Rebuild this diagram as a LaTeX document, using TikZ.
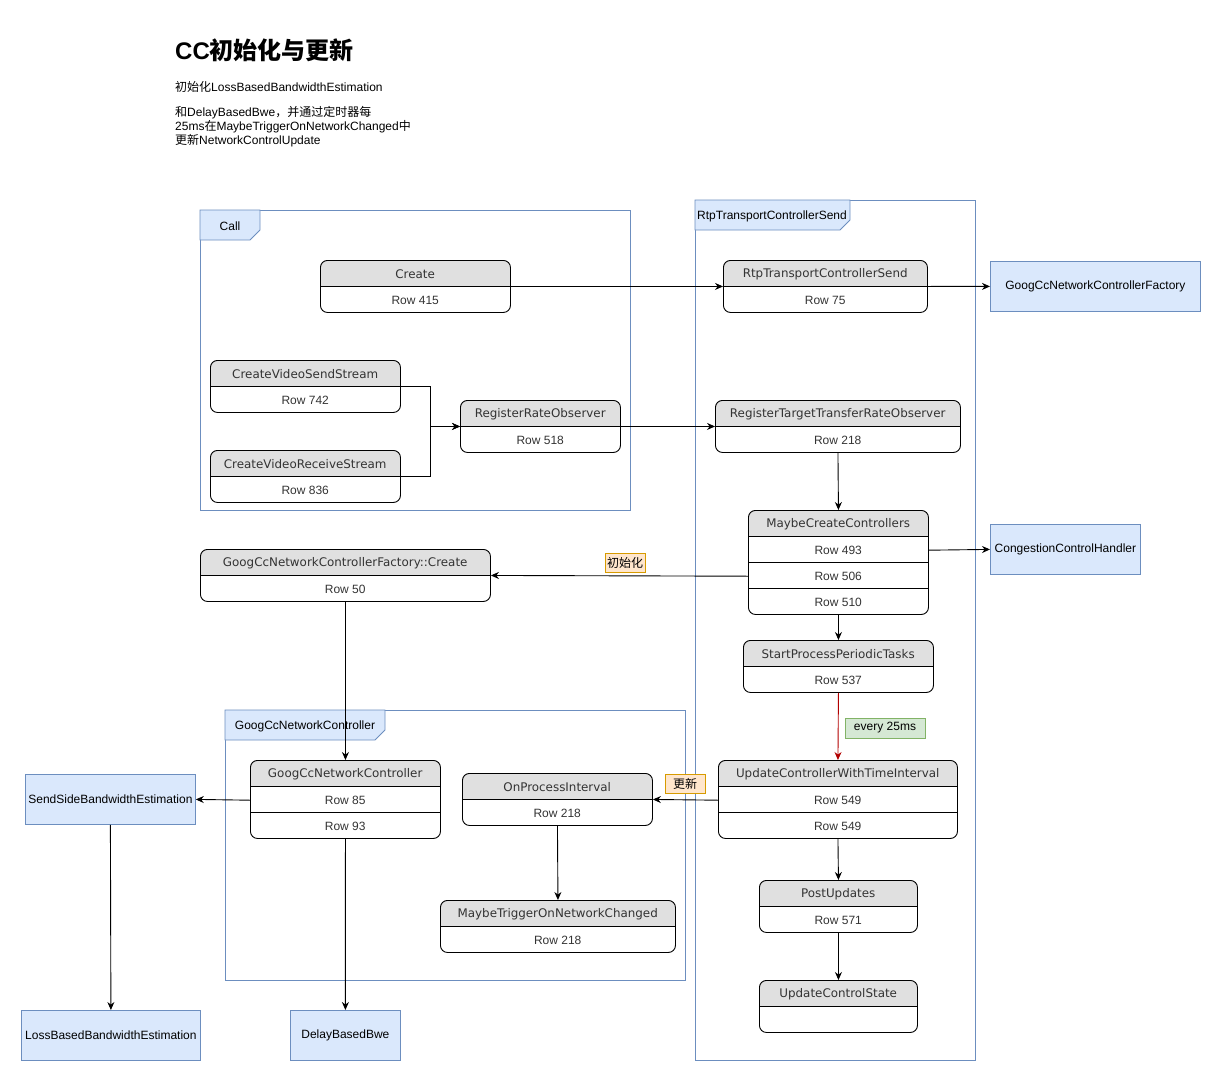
\documentclass[tikz,border=0pt]{standalone}
\usepackage{fontspec}
\setmainfont{Liberation Sans}
\newfontfamily\hdrfont{DejaVu Sans}
\newfontfamily\cjk{Noto Sans CJK SC}
\usetikzlibrary{arrows.meta}
\definecolor{bfill}{HTML}{DAE8FC}
\definecolor{bline}{HTML}{6C8EBF}
\definecolor{hgray}{HTML}{E0E0E0}
\definecolor{ofill}{HTML}{FFE6CC}
\definecolor{oline}{HTML}{D79B00}
\definecolor{gfill}{HTML}{D5E8D4}
\definecolor{gline}{HTML}{82B366}
\definecolor{txt}{HTML}{333333}
\definecolor{redl}{HTML}{B20000}
\tikzset{
  swbox/.style={draw=black, rounded corners=7pt, line width=0.9pt, inner sep=0pt},
  swline/.style={draw=black, line width=0.9pt},
  hdrtext/.style={font=\hdrfont\fontsize{11.9}{13}\selectfont, text=txt, minimum height=26pt, inner sep=0pt, yshift=-1pt},
  rowtext/.style={font=\fontsize{12}{14}\selectfont, text=txt, minimum height=26pt, inner sep=0pt, yshift=-1pt},
  bluebox/.style={draw=bline, fill=bfill, line width=0.8pt, inner sep=0pt, font=\fontsize{12}{14}\selectfont, anchor=north west},
  framebox/.style={draw=bline, line width=0.8pt, inner sep=0pt, anchor=north west},
  tagshape/.style={draw=bline, fill=bfill, line width=0.8pt},
  tagtext/.style={font=\fontsize{12}{14}\selectfont, inner sep=0pt},
  conn/.style={draw=black, line width=0.9pt, -{Stealth[length=8pt,width=7pt]}},
  redconn/.style={draw=redl, line width=0.9pt, -{Stealth[length=8pt,width=7pt]}},
  olabel/.style={draw=oline, fill=ofill, line width=0.8pt, inner sep=0pt, minimum width=40pt, minimum height=19pt, font=\cjk\fontsize{12}{14}\selectfont},
  glabel/.style={draw=gline, fill=gfill, line width=0.8pt, inner sep=0pt, minimum width=80pt, minimum height=20pt, font=\fontsize{12}{14}\selectfont},
}
\newcommand{\swl}[7]{%
  \pgfmathsetmacro{\swW}{#4-#2}%
  \pgfmathsetmacro{\swH}{26*(#5+1)}%
  \pgfmathsetmacro{\swY}{#3+26}%
  \fill[hgray] (#2,\swY) [rounded corners=7pt] -- (#2,#3) -- (#4,#3) -- (#4,\swY);
  \node[swbox, minimum width=\swW pt, minimum height=\swH pt, anchor=north west] (#1) at (#2,#3) {};
  \node[hdrtext, minimum width=\swW pt, anchor=north west] (#1-h) at (#2,#3) {#6};
  \foreach \r [count=\i] in {#7} {
    \pgfmathsetmacro{\rowY}{#3+26*\i}
    \draw[swline] (#2,\rowY) -- (#4,\rowY);
    \node[rowtext, minimum width=\swW pt, anchor=north west] (#1-\i) at (#2,\rowY) {\r};
  }
}
\begin{document}
\begin{tikzpicture}[x=1pt, y=-1pt]
\useasboundingbox (0,0) rectangle (1221,1081);

% title and description
\node[anchor=west, inner sep=0pt, font=\bfseries\fontsize{24}{28}\selectfont] (title) at (175,50) {CC{\cjk 初始化与更新}};
\node[anchor=north west, align=left, inner sep=0pt, font=\fontsize{12}{14}\selectfont] (desc) at (175,81)
  {{\cjk 初始化}LossBasedBandwidthEstimation\\[11pt]
   {\cjk 和}DelayBasedBwe{\cjk ，并通过定时器每}\\
   25ms{\cjk 在}MaybeTriggerOnNetworkChanged{\cjk 中}\\
   {\cjk 更新}NetworkControlUpdate};

% frames
\node[framebox, minimum width=430pt, minimum height=300pt] (fcall) at (200,210) {};
\draw[tagshape] (200,210) -- (260,210) -- (260,230) -- (250,240) -- (200,240) -- cycle;
\node[tagtext] (tcall) at (230,226) {Call};

\node[framebox, minimum width=280pt, minimum height=860pt] (frtp) at (695,200) {};
\draw[tagshape] (695,200) -- (850,200) -- (850,220) -- (840,230) -- (695,230) -- cycle;
\node[tagtext] (trtp) at (772,216) {RtpTransportControllerSend};

\node[framebox, minimum width=460pt, minimum height=270pt] (fgcc) at (225,710) {};
\draw[tagshape] (225,710) -- (385,710) -- (385,730) -- (375,740) -- (225,740) -- cycle;
\node[tagtext] (tgcc) at (305,726) {GoogCcNetworkController};

% swimlane nodes
\swl{create}{320}{260}{510}{1}{Create}{Row 415}
\swl{rtp}{723}{260}{927}{1}{RtpTransportControllerSend}{Row 75}
\swl{cvs}{210}{360}{400}{1}{CreateVideoSendStream}{Row 742}
\swl{cvr}{210}{450}{400}{1}{CreateVideoReceiveStream}{Row 836}
\swl{rro}{460}{400}{620}{1}{RegisterRateObserver}{Row 518}
\swl{rttro}{715}{400}{960}{1}{RegisterTargetTransferRateObserver}{Row 218}
\swl{mcc}{748}{510}{928}{3}{MaybeCreateControllers}{Row 493,Row 506,Row 510}
\swl{sppt}{743}{640}{933}{1}{StartProcessPeriodicTasks}{Row 537}
\swl{ucwti}{718}{760}{957}{2}{UpdateControllerWithTimeInterval}{Row 549,Row 549}
\swl{pu}{759}{880}{917}{1}{PostUpdates}{Row 571}
\swl{ucs}{759}{980}{917}{1}{UpdateControlState}{\relax}
\swl{fcreate}{200}{549}{490}{1}{GoogCcNetworkControllerFactory::Create}{Row 50}
\swl{gcnc}{250}{760}{440}{2}{GoogCcNetworkController}{Row 85,Row 93}
\swl{opi}{462}{773}{652}{1}{OnProcessInterval}{Row 218}
\swl{mtonc}{440}{900}{675}{1}{MaybeTriggerOnNetworkChanged}{Row 218}

% blue boxes
\node[bluebox, minimum width=210pt, minimum height=50pt] (gcf) at (990,261) {GoogCcNetworkControllerFactory};
\node[bluebox, minimum width=150pt, minimum height=50pt] (cch) at (990,524) {CongestionControlHandler};
\node[bluebox, minimum width=170pt, minimum height=50pt] (ssbe) at (25,774) {SendSideBandwidthEstimation};
\node[bluebox, minimum width=179pt, minimum height=50pt] (lbbe) at (21,1010) {LossBasedBandwidthEstimation};
\node[bluebox, minimum width=110pt, minimum height=50pt] (dbb) at (290,1010) {DelayBasedBwe};

% connectors
\draw[conn] (create.east) -- (rtp.west);
\draw[conn] (rtp.east) -- (gcf.west);
\draw[conn] (cvs.east) -- ++(30,0) |- (rro.west);
\draw[conn] (cvr.east) -- ++(30,0) |- (rro.west);
\draw[conn] (rro.east) -- (rttro.west);
\draw[conn] (rttro.south) -- (mcc.north);
\draw[conn] (mcc-1.east) -- (cch.west);
\draw[conn] (mcc-2.west) -- (fcreate.east);
\draw[conn] (mcc.south) -- (sppt.north);
\draw[redconn] (sppt.south) -- (ucwti.north);
\draw[conn] (ucwti-1.west) -- (opi.east);
\draw[conn] (ucwti.south) -- (pu.north);
\draw[conn] (pu.south) -- (ucs.north);
\draw[conn] (fcreate.south) -- (gcnc.north);
\draw[conn] (gcnc-1.west) -- (ssbe.east);
\draw[conn] (gcnc.south) -- (dbb.north);
\draw[conn] (ssbe.south) -- (lbbe.north);
\draw[conn] (opi.south) -- (mtonc.north);

% labels
\node[olabel] (lblinit) at (625,563) {初始化};
\node[olabel] (lblupd) at (685,784) {更新};
\node[glabel] (lbl25) at (885,728) {every 25ms};
\end{tikzpicture}
\end{document}
